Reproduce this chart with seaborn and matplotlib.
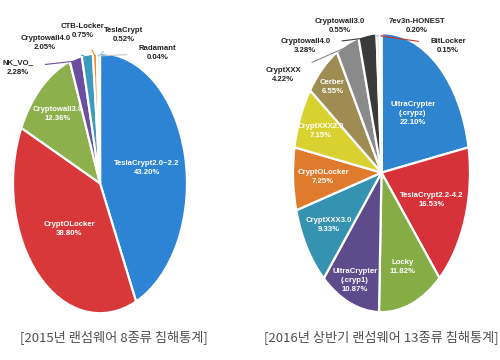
import numpy as np
import matplotlib
matplotlib.use('Agg')
import matplotlib.pyplot as plt
import seaborn as sns

# 2015: 8 ransomware families (share of incidents, %)
names_2015 = ['TeslaCrypt2.0~2.2', 'CryptOLocker', 'Cryptowall3.0', 'NK_VO_',
              'Cryptowall4.0', 'CTB-Locker', 'TeslaCrypt', 'Radamant']
values_2015 = [43.20, 38.80, 12.36, 2.28, 2.05, 0.75, 0.52, 0.04]
colors_2015 = ['#2d84d4', '#d8383a', '#8db04c', '#6b4f9e', '#3d9cbd',
               '#f08a2a', '#9fc5ea', '#c8c8c8']

# 2016 H1: 13 ransomware families
names_2016 = ['UltraCrypter\n(.crypz)', 'TeslaCrypt2.2-4.2', 'Locky', 'UltraCrypter\n(.cryp1)',
              'CryptXXX3.0', 'CryptOLocker', 'CryptXXX2.0', 'Cerber', 'CryptXXX',
              'Cryptowall4.0', 'Cryptowall3.0', '7ev3n-HONEST', 'BitLocker']
values_2016 = [22.10, 16.53, 11.82, 10.87, 9.33, 7.25, 7.15, 6.55, 4.22,
               3.28, 0.55, 0.20, 0.15]
colors_2016 = ['#2f84cf', '#d7323a', '#86ac45', '#5e4b8b', '#3592b0', '#e07b2e',
               '#d8d12f', '#9e8c52', '#8a8a8a', '#3a3a3a', '#9bc1e6', '#e8a0a0', '#c0392b']

captions = ['[2015년 랜섬웨어 8종류 침해통계]', '[2016년 상반기 랜섬웨어 13종류 침해통계]']

# label placement: radius for inner labels, data position for outer ones
inner_r_2015 = [0.55, 0.5, 0.72]
outer_pos_2015 = [(-0.94, 0.89), (-0.63, 1.08), (-0.2, 1.17), (0.27, 1.14), (0.66, 1.0)]
inner_r_2016 = [0.55, 0.6, 0.72, 0.83, 0.7, 0.66, 0.75, 0.83]
outer_pos_2016 = [(-1.11, 0.70), (-0.86, 0.91), (-0.47, 1.05), (0.40, 1.05), (0.75, 0.91)]

sns.set_theme(style='white')
plt.rcParams['font.family'] = ['Liberation Sans Narrow', 'Liberation Sans', 'DejaVu Sans']


def draw_pie(ax, names, values, colors, inner_r, outer_pos):
    wedges, _ = ax.pie(values, colors=sns.color_palette(colors), startangle=90,
                       counterclock=False,
                       wedgeprops=dict(edgecolor='white', linewidth=1.6))
    ax.set_aspect('auto')
    ax.set_xlim(-1, 1)
    ax.set_ylim(-1, 1)
    ax.axis('off')
    n_in = len(inner_r)
    for i, (w, name, v) in enumerate(zip(wedges, names, values)):
        mid = np.deg2rad((w.theta1 + w.theta2) / 2)
        txt = f'{name}\n{v:.2f}%'
        if i < n_in:
            r = inner_r[i]
            ax.text(r * np.cos(mid), r * np.sin(mid), txt, color='white',
                    fontsize=5.6, fontweight='bold', ha='center', va='center',
                    linespacing=1.4)
        else:
            tx, ty = outer_pos[i - n_in]
            ax.annotate(txt, xy=(0.98 * np.cos(mid), 0.98 * np.sin(mid)),
                        xytext=(tx, ty), color='#222222', fontsize=5.6,
                        fontweight='bold', ha='center', va='center',
                        linespacing=1.4, annotation_clip=False,
                        arrowprops=dict(arrowstyle='-', color=colors[i], lw=0.8,
                                        shrinkA=6, shrinkB=0))


fig = plt.figure(figsize=(5, 3.6), dpi=100)
fig.patch.set_facecolor('white')

ax1 = fig.add_axes([0.026, 0.130, 0.348, 0.722])
draw_pie(ax1, names_2015, values_2015, colors_2015, inner_r_2015, outer_pos_2015)

ax2 = fig.add_axes([0.586, 0.133, 0.354, 0.775])
draw_pie(ax2, names_2016, values_2016, colors_2016, inner_r_2016, outer_pos_2016)

for x, cap in zip([0.228, 0.762], captions):
    fig.text(x, 0.062, cap, ha='center', va='center', fontsize=9.5, color='#505050',
             family=['Noto Sans CJK KR', 'DejaVu Sans'])

fig.savefig('out.png', dpi=100, facecolor='white')
